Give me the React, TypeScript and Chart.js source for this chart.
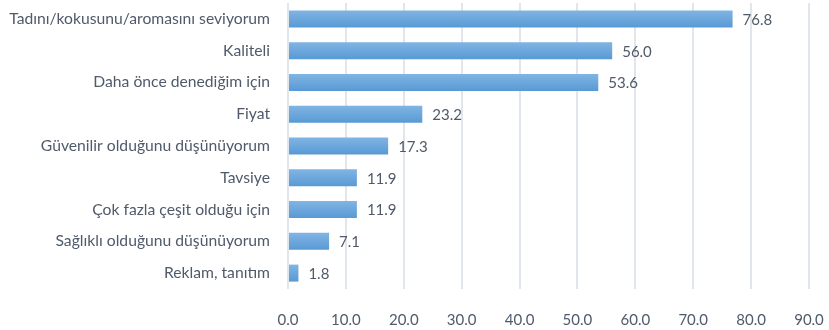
import React, { useEffect, useRef } from "react";
import { Chart, registerables } from "chart.js";

Chart.register(...registerables);

const categories = [
  "Tadını/kokusunu/aromasını seviyorum",
  "Kaliteli",
  "Daha önce denediğim için",
  "Fiyat",
  "Güvenilir olduğunu düşünüyorum",
  "Tavsiye",
  "Çok fazla çeşit olduğu için",
  "Sağlıklı olduğunu düşünüyorum",
  "Reklam, tanıtım",
];
const values = [76.8, 56.0, 53.6, 23.2, 17.3, 11.9, 11.9, 7.1, 1.8];
const xMin = 0;
const xMax = 90;
const xStep = 10;

const FONT_FAMILY = "Lato, 'Open Sans', sans-serif";
const TEXT_COLOR = "#505a6a";

const valueLabels = {
  id: "valueLabels",
  afterDatasetsDraw(chart: any) {
    const ctx = chart.ctx;
    const meta = chart.getDatasetMeta(0);
    ctx.save();
    ctx.font = `15px ${FONT_FAMILY}`;
    ctx.fillStyle = TEXT_COLOR;
    ctx.textAlign = "left";
    ctx.textBaseline = "middle";
    meta.data.forEach((el: any, i: number) => {
      const v = chart.data.datasets[0].data[i] as number;
      ctx.fillText(v.toFixed(1), el.x + 10, el.y + 1);
    });
    ctx.restore();
  },
};

export default function App() {
  const ref = useRef<HTMLCanvasElement | null>(null);
  useEffect(() => {
    if (!ref.current) return;
    const chart = new Chart(ref.current, {
      type: "bar",
      data: {
        labels: categories,
        datasets: [
          {
            data: values,
            backgroundColor: (c: any) => {
              const ch = c.chart;
              const y = ch.scales?.y;
              if (!y || c.dataIndex === undefined) return "#6aa6dc";
              const cy = y.getPixelForValue(c.dataIndex);
              if (!Number.isFinite(cy)) return "#6aa6dc";
              const g = ch.ctx.createLinearGradient(0, cy - 9, 0, cy + 9);
              g.addColorStop(0, "#82b5e4");
              g.addColorStop(1, "#5799d4");
              return g;
            },
            borderWidth: 0,
            barPercentage: 0.535,
            categoryPercentage: 1,
          },
        ],
      },
      options: {
        indexAxis: "y",
        animation: false,
        responsive: true,
        maintainAspectRatio: false,
        layout: { padding: { top: 3, right: 20, bottom: 0, left: 0 } },
        plugins: { legend: { display: false }, tooltip: { enabled: false } },
        scales: {
          x: {
            min: xMin,
            max: xMax,
            ticks: {
              stepSize: xStep,
              color: TEXT_COLOR,
              font: { family: FONT_FAMILY, size: 15 },
              padding: 22,
              callback: (v: any) => Number(v).toFixed(1),
              maxRotation: 0,
            },
            grid: { color: "#e1e5ec", lineWidth: 2, drawTicks: false },
            border: { display: false },
            afterFit: (s: any) => {
              s.height = 41;
              s.paddingLeft = 0;
              s.paddingRight = 0;
            },
          },
          y: {
            ticks: {
              color: TEXT_COLOR,
              font: { family: FONT_FAMILY, size: 15.7 },
              padding: 18,
            },
            grid: { display: false, drawTicks: false },
            border: { display: false },
            afterFit: (s: any) => {
              s.width = 288;
              s.paddingTop = 0;
              s.paddingBottom = 0;
            },
          },
        },
      },
      plugins: [valueLabels],
    });
    return () => chart.destroy();
  }, []);
  return (
    <div style={{ position: "fixed", left: 0, top: 0, width: 829, height: 330 }}>
      <canvas ref={ref} />
    </div>
  );
}
